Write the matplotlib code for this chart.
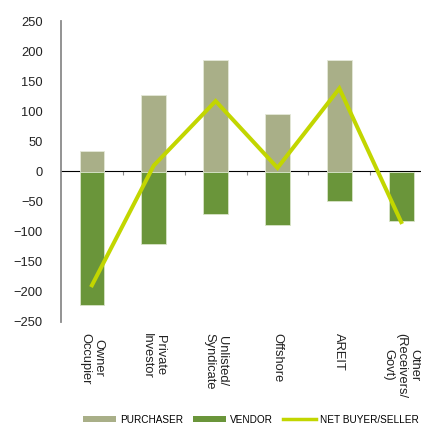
import matplotlib.pyplot as plt
from matplotlib.patches import Patch
from matplotlib.lines import Line2D

categorias = ["Owner\nOccupier", "Private\nInvestor", "Unlisted/\nSyndicate",
              "Offshore", "AREIT", "Other\n(Receivers/\nGovt)"]
compradores = [34, 127, 186, 95, 185, 0]
vendedores = [-222, -120, -70, -89, -49, -82]
neto = [-189, 10, 117, 6, 138, -84]

c_comp = "#a9af88"
c_vend = "#6a953a"
c_neto = "#c2d600"
gris = "#8a8a8a"

plt.rcParams['font.family'] = ['Liberation Sans', 'DejaVu Sans']

fig = plt.figure(figsize=(4.21, 4.26), dpi=100)
ax = fig.add_axes([61 / 421, 1 - 322 / 426, 360 / 421, 301 / 426])

x = list(range(len(categorias)))
ax.bar(x, compradores, width=0.4, color=c_comp, edgecolor="#e4e8d8", linewidth=0.6, zorder=2)
ax.bar(x, vendedores, width=0.4, color=c_vend, edgecolor="#d8e4c8", linewidth=0.6, zorder=2)
ax.plot(x, neto, color=c_neto, linewidth=2.9, zorder=3, solid_joinstyle='miter')

ax.set_ylim(-250, 250)
ax.set_xlim(-0.5, 5.32)
ax.set_yticks(range(-250, 251, 50))
ax.tick_params(axis='y', length=0, pad=13, labelsize=9.3, labelcolor="#222222")
ax.set_xticks([])

for s in ["top", "right", "bottom"]:
    ax.spines[s].set_visible(False)
ax.spines["left"].set_color(gris)
ax.spines["left"].set_linewidth(1.3)

# eje en cero con marcas entre categorias
sec = ax.secondary_xaxis(0.5)
sec.set_xticks([i + 0.5 for i in range(len(categorias) - 1)])
sec.set_xticklabels([])
sec.tick_params(direction='in', length=3, color=gris, width=0.8)
sec.spines["bottom"].set_color(gris)
sec.spines["bottom"].set_linewidth(1.3)

for i, cat in enumerate(categorias):
    ax.text(i, -0.035, cat, transform=ax.get_xaxis_transform(), rotation=270,
            ha='center', va='top', multialignment='center', fontsize=9.3,
            color="#222222", linespacing=1.1)

handles = [Patch(facecolor=c_comp), Patch(facecolor=c_vend),
           Line2D([0], [0], color=c_neto, linewidth=2.5)]
fig.legend(handles, ["PURCHASER", "VENDOR", "NET BUYER/SELLER"], loc='center',
           bbox_to_anchor=(0.595, 0.015), ncol=3, frameon=False, fontsize=7.2,
           handlelength=3.3, handleheight=0.45, columnspacing=1.0, handletextpad=0.4)

fig.savefig("out.png", dpi=100)
